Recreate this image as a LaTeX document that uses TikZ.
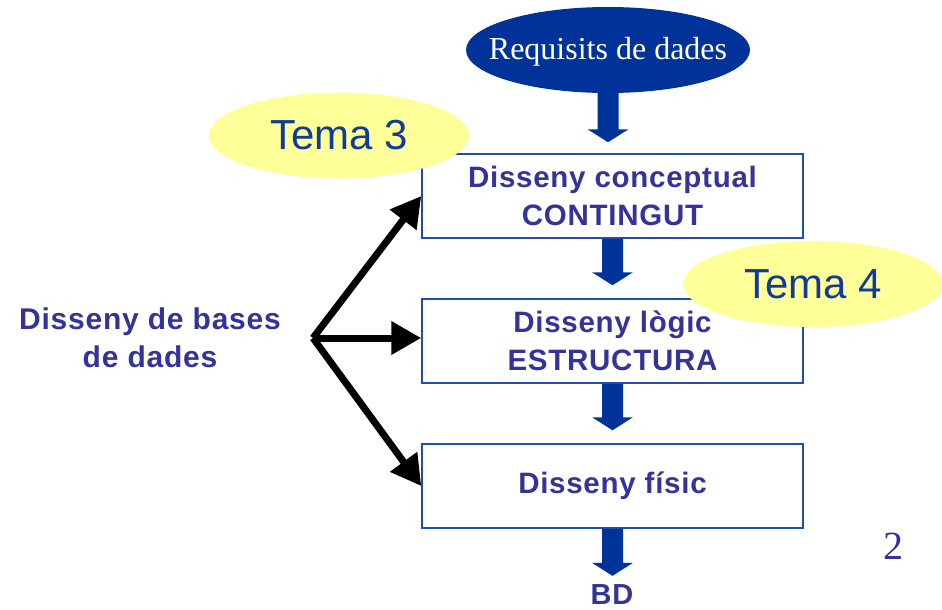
\documentclass[tikz,border=0pt]{standalone}
\usepackage{fontspec}
\setmainfont{Liberation Serif}
\newfontfamily\arialb{Liberation Sans}[LetterSpace=2.5]
\newfontfamily\arial{Liberation Sans}
\usetikzlibrary{shapes.geometric,arrows.meta,calc}
\definecolor{textblue}{HTML}{333399}
\definecolor{temablue}{HTML}{103A9C}
\definecolor{boxblue}{HTML}{1F4FAE}
\definecolor{arrowblue}{HTML}{003399}
\definecolor{temayellow}{HTML}{FFFF99}
\newcommand\blkarrow[2]{%
  \fill[arrowblue] let \p1=(#1), \p2=(#2) in
  ({\x1-10.5pt},\y1) -- ({\x1+10.5pt},\y1) -- ({\x1+10.5pt},{\y2+13pt})
  -- ({\x1+20.5pt},{\y2+13pt}) -- (\x1,\y2) -- ({\x1-20.5pt},{\y2+13pt})
  -- ({\x1-10.5pt},{\y2+13pt}) -- cycle;}
\tikzset{
  stagebox/.style={draw=boxblue, line width=1.5pt, fill=white, minimum width=381pt,
    minimum height=84pt, inner sep=0pt, align=center, text=textblue,
    font=\arialb\bfseries\fontsize{29.5}{38}\selectfont},
  temaell/.style={ellipse, fill=temayellow, minimum width=260pt, minimum height=86pt,
    inner sep=0pt, text=temablue, font=\arial\fontsize{42}{46}\selectfont},
  bigarrow/.style={line width=7pt, -{Triangle[length=30pt,width=32pt]}},
  boldtext/.style={text=textblue, align=center, inner sep=0pt,
    font=\arialb\bfseries\fontsize{30}{38}\selectfont}
}
\begin{document}
\begin{tikzpicture}[x=1pt,y=-1pt]
\useasboundingbox (0,0) rectangle (942,610);
% start ellipse
\node[ellipse, fill=arrowblue, minimum width=284pt, minimum height=86pt, inner sep=0pt] (req) at (608,50) {};
\node[text=white, inner sep=0pt, font=\fontsize{32}{34}\selectfont] (reqtxt) at (608,52) {Requisits de dades};
% stage boxes
\node[stagebox] (c1) at (612.5,196) {Disseny conceptual\\CONTINGUT};
\node[stagebox] (c2) at (612.5,341) {Disseny lògic\\ESTRUCTURA};
\node[stagebox] (c3) at (612.5,486) {Disseny físic};
\node[boldtext, font=\arialb\bfseries\fontsize{29}{38}\selectfont] (bd) at (612,595) {BD};
% block arrows
\blkarrow{req.south}{$(c1.north)+(0,-11)$}
\blkarrow{c1.south}{$(c2.north)+(0,-13)$}
\blkarrow{c2.south}{$(c3.north)+(0,-13)$}
\blkarrow{c3.south}{$(bd.north)+(0,-9)$}
% left label and arrows
\node[boldtext] (lbl) at (150,338) {Disseny de bases\\de dades};
\coordinate (o) at (313,338);
\draw[bigarrow] (o) -- (c1.west);
\draw[bigarrow] (o) -- (o -| c2.west);
\draw[bigarrow] (o) -- (c3.west);
% tema ellipses
\node[temaell] (t3) at (339,135.5) {Tema 3};
\node[temaell] (t4) at (813,284) {Tema 4};
% page number
\node[text=textblue, font=\fontsize{40}{44}\selectfont] (pg) at (893,546) {2};
\end{tikzpicture}
\end{document}
